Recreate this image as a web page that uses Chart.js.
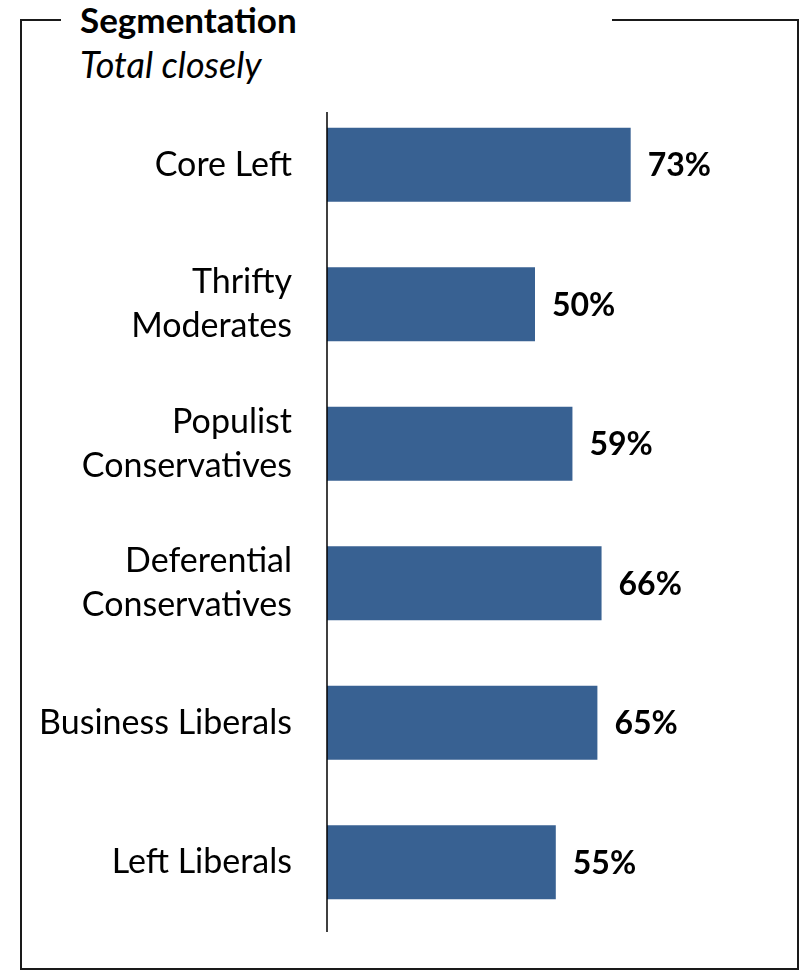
<!DOCTYPE html>
<html>
<head>
<meta charset="utf-8">
<script src="https://cdn.jsdelivr.net/npm/chart.js@4"></script>
<style>
  body { margin: 0; background: #fff; }
  #wrap { position: relative; width: 808px; height: 972px; }
  #frame { position: absolute; left: 20px; top: 19px; width: 775px; height: 947px; border: 2px solid #1a1a1a; }
  #gap { position: absolute; left: 61px; top: 10px; width: 551px; height: 20px; background: #fff; }
  #title { position: absolute; left: 80px; top: -2px; font: bold 35px Lato, sans-serif; color: #000; }
  #subtitle { position: absolute; left: 80px; top: 42px; font: italic 36px Lato, sans-serif; color: #000; }
  canvas { position: absolute; left: 0; top: 0; }
</style>
</head>
<body>
<div id="wrap">
  <div id="frame"></div>
  <div id="gap"></div>
  <div id="title">Segmentation</div>
  <div id="subtitle">Total closely</div>
  <canvas id="segChart" width="808" height="972"></canvas>
</div>
<script>
const segments = [
    ['Core Left'],
    ['Thrifty', 'Moderates'],
    ['Populist', 'Conservatives'],
    ['Deferential', 'Conservatives'],
    ['Business Liberals'],
    ['Left Liberals']
];
const closelyValues = [73, 50, 59, 66, 65, 55];

// value labels at the end of each bar + the vertical axis line
const barLabels = {
    id: 'barLabels',
    afterDatasetsDraw(chart) {
        const ctx = chart.ctx;
        const area = chart.chartArea;
        ctx.save();
        ctx.strokeStyle = '#000';
        ctx.lineWidth = 1.5;
        ctx.beginPath();
        ctx.moveTo(area.left, area.top + 17);
        ctx.lineTo(area.left, area.bottom);
        ctx.stroke();

        ctx.fillStyle = '#000';
        ctx.font = 'bold 32px Lato, sans-serif';
        ctx.textBaseline = 'middle';
        chart.getDatasetMeta(0).data.forEach((bar, i) => {
            ctx.fillText(closelyValues[i] + '%', bar.x + 17, bar.y + 1);
        });
        ctx.restore();
    }
};

var ctx = document.getElementById('segChart').getContext('2d');
var segChart = new Chart(ctx, {
    type: 'bar',
    data: {
        labels: segments,
        datasets: [{
            data: closelyValues,
            backgroundColor: '#386192',
            categoryPercentage: 1,
            barPercentage: 0.53
        }]
    },
    options: {
        indexAxis: 'y',
        responsive: false,
        animation: false,
        layout: { padding: { top: 95, bottom: 40, right: 65, left: 0 } },
        plugins: {
            legend: { display: false },
            tooltip: { enabled: false }
        },
        scales: {
            x: { display: false, min: 0, max: 100 },
            y: {
                afterFit: (s) => { s.width = 327; },
                grid: { display: false, drawTicks: true, tickLength: 35 },
                border: { display: false },
                ticks: {
                    color: '#000',
                    padding: 0,
                    font: { family: 'Lato', size: 34, lineHeight: 1.3 }
                }
            }
        }
    },
    plugins: [barLabels]
});
</script>
</body>
</html>
